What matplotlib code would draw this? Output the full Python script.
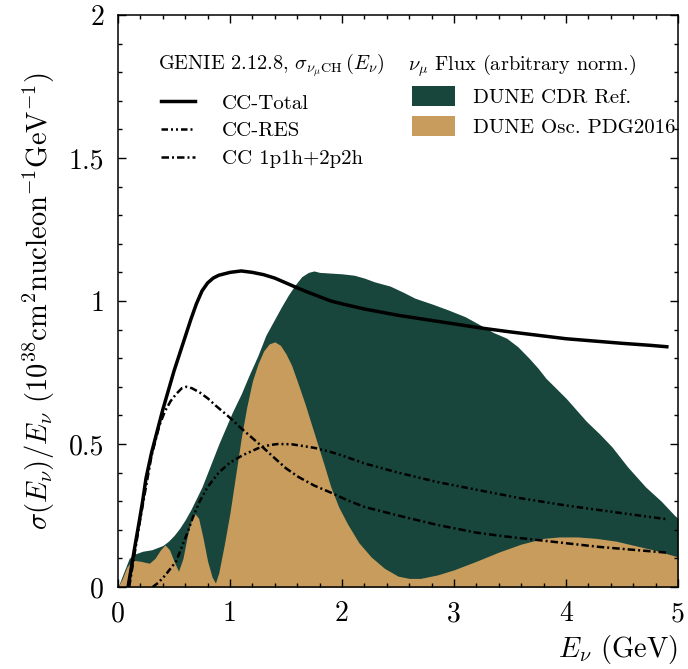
import matplotlib
matplotlib.use("Agg")
import matplotlib.pyplot as plt
from matplotlib.patches import Patch
from matplotlib.lines import Line2D

# CC total cross section / E
tot_x = [0.09, 0.12, 0.15, 0.19, 0.22, 0.25, 0.3, 0.4, 0.5, 0.6, 0.65, 0.7, 0.75,
         0.8, 0.85, 0.9, 1.0, 1.1, 1.2, 1.3, 1.4, 1.5, 1.6, 1.7, 1.8, 1.9, 2.0,
         2.2, 2.5, 2.75, 3.0, 3.25, 3.5, 3.75, 4.0, 4.25, 4.5, 4.75, 4.9]
tot_y = [0.0, 0.07, 0.14, 0.23, 0.30, 0.38, 0.47, 0.62, 0.755, 0.875, 0.935, 0.99,
         1.035, 1.063, 1.08, 1.09, 1.10, 1.105, 1.10, 1.092, 1.08, 1.063, 1.046,
         1.03, 1.015, 1.0, 0.99, 0.972, 0.95, 0.935, 0.92, 0.905, 0.892, 0.88,
         0.868, 0.86, 0.852, 0.845, 0.84]

# CC-RES
res_x = [0.31, 0.36, 0.42, 0.47, 0.52, 0.57, 0.62, 0.67, 0.73, 0.8, 0.9, 1.0,
         1.11, 1.25, 1.35, 1.43, 1.55, 1.65, 1.76, 1.9, 2.0, 2.2, 2.5, 2.85, 3.2,
         3.6, 4.0, 4.5, 4.9]
res_y = [0.0, 0.015, 0.04, 0.065, 0.09, 0.14, 0.19, 0.245, 0.30, 0.35, 0.40,
         0.435, 0.46, 0.485, 0.496, 0.50, 0.499, 0.493, 0.486, 0.472, 0.46, 0.432,
         0.40, 0.367, 0.34, 0.31, 0.285, 0.258, 0.237]

# CC 1p1h+2p2h
qe_x = [0.1, 0.2, 0.3, 0.37, 0.42, 0.47, 0.52, 0.57, 0.61, 0.66, 0.73, 0.8, 0.87,
        0.99, 1.1, 1.26, 1.4, 1.5, 1.61, 1.75, 1.9, 2.05, 2.2, 2.5, 2.85, 3.2,
        3.45, 3.73, 4.0, 4.3, 4.6, 4.9]
qe_y = [0.0, 0.24, 0.46, 0.565, 0.615, 0.65, 0.675, 0.695, 0.70, 0.695, 0.68,
        0.66, 0.635, 0.595, 0.555, 0.50, 0.45, 0.415, 0.385, 0.355, 0.33, 0.303,
        0.28, 0.25, 0.217, 0.19, 0.177, 0.165, 0.153, 0.14, 0.13, 0.12]

# DUNE CDR reference flux
cdr_x = [0.0, 0.05, 0.1, 0.15, 0.22, 0.3, 0.4, 0.45, 0.5, 0.55, 0.6, 0.65, 0.7,
         0.75, 0.8, 0.85, 0.9, 0.96, 1.02, 1.1, 1.17, 1.25, 1.32, 1.39, 1.46,
         1.52, 1.58, 1.64, 1.7, 1.75, 1.8, 2.0, 2.11, 2.2, 2.29, 2.43, 2.55, 2.65,
         2.8, 2.94, 3.1, 3.23, 3.35, 3.47, 3.57, 3.67, 3.75, 3.82, 4.0, 4.18, 4.3,
         4.41, 4.55, 4.71, 4.85, 4.97, 5.0]
cdr_y = [0.0, 0.05, 0.10, 0.115, 0.125, 0.13, 0.145, 0.16, 0.18, 0.205, 0.235,
         0.27, 0.31, 0.35, 0.40, 0.45, 0.50, 0.555, 0.61, 0.675, 0.74, 0.81, 0.88,
         0.93, 0.98, 1.02, 1.055, 1.085, 1.10, 1.105, 1.10, 1.095, 1.09, 1.08,
         1.067, 1.052, 1.03, 1.01, 0.99, 0.97, 0.945, 0.917, 0.89, 0.87, 0.84,
         0.80, 0.765, 0.73, 0.66, 0.58, 0.535, 0.49, 0.42, 0.35, 0.30, 0.25, 0.24]

# DUNE oscillated flux (PDG2016)
osc_x = [0.0, 0.04, 0.08, 0.13, 0.2, 0.28, 0.33, 0.38, 0.42, 0.46, 0.5, 0.54,
         0.58, 0.62, 0.66, 0.69, 0.72, 0.76, 0.8, 0.84, 0.87, 0.9, 0.95, 1.0,
         1.05, 1.1, 1.15, 1.2, 1.25, 1.3, 1.35, 1.4, 1.45, 1.5, 1.55, 1.6, 1.67,
         1.73, 1.79, 1.85, 1.9, 1.97, 2.05, 2.15, 2.26, 2.38, 2.5, 2.6, 2.7, 2.85,
         3.0, 3.2, 3.4, 3.6, 3.8, 3.94, 4.1, 4.27, 4.45, 4.59, 4.8, 5.0]
osc_y = [0.0, 0.03, 0.07, 0.094, 0.09, 0.083, 0.10, 0.13, 0.147, 0.13, 0.09,
         0.055, 0.10, 0.18, 0.24, 0.255, 0.24, 0.17, 0.09, 0.035, 0.014, 0.05,
         0.15, 0.26, 0.39, 0.52, 0.63, 0.72, 0.78, 0.825, 0.85, 0.857, 0.845,
         0.815, 0.775, 0.72, 0.64, 0.565, 0.49, 0.415, 0.35, 0.28, 0.22, 0.155,
         0.105, 0.065, 0.038, 0.03, 0.03, 0.042, 0.06, 0.09, 0.122, 0.15, 0.17,
         0.175, 0.175, 0.17, 0.16, 0.147, 0.128, 0.105]

GREEN = "#18463c"
TAN = "#c89c5c"
RES_DASH = (2.6, 1.2, 0.8, 1.2, 0.8, 1.2)
QE_DASH = (3, 1.2, 0.8, 1.2)


def main():
    plt.rcParams["font.family"] = "serif"
    plt.rcParams["font.serif"] = ["cmr10"]
    plt.rcParams["mathtext.fontset"] = "cm"
    plt.rcParams["axes.formatter.use_mathtext"] = True

    fig = plt.figure(figsize=(6.88, 6.69), dpi=100)
    ax = fig.add_axes([0.1715, 0.1226, 0.814, 0.855])

    ax.fill_between(cdr_x, 0, cdr_y, color=GREEN, lw=0)
    ax.fill_between(osc_x, 0, osc_y, color=TAN, lw=0)

    ax.plot(tot_x, tot_y, color="black", lw=2.5)
    ax.plot(res_x, res_y, color="black", lw=1.8, dashes=RES_DASH)
    ax.plot(qe_x, qe_y, color="black", lw=1.8, dashes=QE_DASH)

    ax.set_xlim(0, 5)
    ax.set_ylim(0, 2)
    ax.set_xticks([0, 1, 2, 3, 4, 5])
    ax.set_xticklabels(["0", "1", "2", "3", "4", "5"])
    ax.set_yticks([0, 0.5, 1, 1.5, 2])
    ax.set_yticklabels(["0", "0.5", "1", "1.5", "2"])
    ax.set_xticks([i * 0.2 for i in range(26)], minor=True)
    ax.set_yticks([i * 0.1 for i in range(21)], minor=True)
    ax.tick_params(which="both", direction="in", top=True, right=True,
                   labelsize=20, width=1.0, pad=10)
    ax.tick_params(which="major", length=6)
    ax.tick_params(which="minor", length=3)
    for sp in ax.spines.values():
        sp.set_linewidth(1.1)

    ax.set_xlabel(r"$E_{\nu}$ (GeV)", fontsize=20.5, loc="right", labelpad=4)
    ax.set_ylabel(r"$\sigma(E_{\nu})/E_{\nu}$ (10$^{38}$cm$^{2}$nucleon$^{-1}$GeV$^{-1}$)",
                  fontsize=20.5, labelpad=8)

    # legend titles
    ax.text(0.0714, 0.912,
            r"GENIE 2.12.8, $\sigma_{\nu_{\mu}\mathrm{CH}}\,(E_{\nu})$",
            transform=ax.transAxes, fontsize=14.6, ha="left", va="center")
    ax.text(0.518, 0.912, r"$\nu_{\mu}$ Flux (arbitrary norm.)",
            transform=ax.transAxes, fontsize=14.6, ha="left", va="center")

    line_handles = [
        Line2D([], [], color="black", lw=2.5),
        Line2D([], [], color="black", lw=1.8, dashes=RES_DASH),
        Line2D([], [], color="black", lw=1.8, dashes=QE_DASH),
    ]
    leg1 = ax.legend(line_handles, ["CC-Total", "CC-RES", "CC 1p1h+2p2h"],
                     fontsize=15, frameon=False,
                     loc="upper left", bbox_to_anchor=(0.0768, 0.862),
                     handlelength=1.63, handletextpad=1.3, labelspacing=0.44,
                     borderpad=0, borderaxespad=0)
    ax.add_artist(leg1)

    patch_handles = [Patch(facecolor=GREEN, lw=0), Patch(facecolor=TAN, lw=0)]
    ax.legend(patch_handles, ["DUNE CDR Ref.", "DUNE Osc. PDG2016"],
              fontsize=15, frameon=False,
              loc="upper left", bbox_to_anchor=(0.525, 0.876),
              handlelength=2.07, handleheight=1.1, handletextpad=0.87,
              labelspacing=0.44, borderpad=0, borderaxespad=0)

    fig.savefig("out.png", dpi=100)


if __name__ == "__main__":
    main()
